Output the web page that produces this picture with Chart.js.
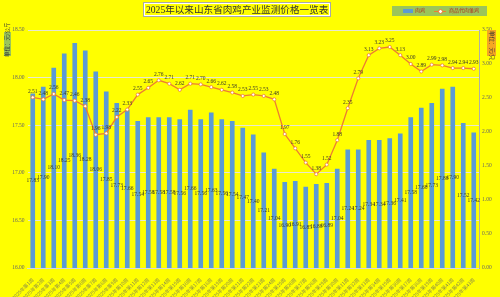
<!DOCTYPE html>
<html><head><meta charset="utf-8">
<script src="https://cdn.jsdelivr.net/npm/chart.js@4"></script>
<style>
html,body{margin:0;padding:0;background:#ffff00;}
#wrap{position:relative;width:500px;height:297px;background:#ffff00;overflow:hidden;font-family:"Liberation Serif","Noto Sans CJK SC",serif;}
canvas{position:absolute;left:0;top:0;}
#title{position:absolute;left:143px;top:2px;height:13px;line-height:13px;padding:0 2px;border:1px solid #a8a8a8;box-shadow:inset 0 0 0 1px #fff;font-size:9.6px;color:#333;white-space:nowrap;}
#legend{position:absolute;left:392px;top:6px;width:95px;height:10px;background:#9bc55a;font-size:5px;color:#b03020;}
.ytitle{position:absolute;font-size:5.5px;color:#333;white-space:nowrap;}
</style></head>
<body><div id="wrap">
<canvas id="c" width="500" height="297"></canvas>
<div id="title">2025年以来山东省肉鸡产业监测价格一览表</div>
<div id="legend">
 <span style="position:absolute;left:11px;top:3px;width:10px;height:3.5px;background:#5b9bd5"></span>
 <span style="position:absolute;left:23px;top:2px;line-height:6px">肉鸡</span>
 <span style="position:absolute;left:42px;top:4.5px;width:12px;height:1.2px;background:#ed7d31"></span>
 <span style="position:absolute;left:46px;top:3px;width:3px;height:3px;border:0.8px solid #ed7d31;background:#fff;border-radius:50%"></span>
 <span style="position:absolute;left:57px;top:2px;line-height:6px">商品代肉雏鸡</span>
</div>
<div class="ytitle" style="left:4px;top:32px;width:7px;height:24px;background:#9bc55a;">
 <div style="position:absolute;left:-9px;top:9px;width:25px;text-align:center;transform:rotate(-90deg);line-height:7px;">单位：元/公斤</div></div>
<div class="ytitle" style="left:487px;top:30px;width:9px;height:26px;background:#f5a623;">
 <div style="position:absolute;left:-8px;top:9px;width:25px;text-align:center;transform:rotate(90deg);line-height:9px;">单位：元/只</div></div>
</div>
<script>
const categories = ["2025年第1周","2025年第2周","2025年第3周","2025年第4周","2025年第5周","2025年第6周","2025年第7周","2025年第8周","2025年第9周","2025年第10周","2025年第11周","2025年第12周","2025年第13周","2025年第14周","2025年第15周","2025年第16周","2025年第17周","2025年第18周","2025年第19周","2025年第20周","2025年第21周","2025年第22周","2025年第23周","2025年第24周","2025年第25周","2025年第26周","2025年第27周","2025年第28周","2025年第29周","2025年第30周","2025年第31周","2025年第32周","2025年第33周","2025年第34周","2025年第35周","2025年第36周","2025年第37周","2025年第38周","2025年第39周","2025年第40周","2025年第41周","2025年第42周","2025年第43周"];
const broilerPrice = [17.83,17.90,18.10,18.25,18.36,18.28,18.06,17.85,17.73,17.66,17.54,17.58,17.58,17.58,17.56,17.66,17.56,17.63,17.56,17.54,17.47,17.40,17.21,17.04,16.90,16.91,16.85,16.88,16.89,17.04,17.24,17.24,17.34,17.34,17.36,17.41,17.58,17.68,17.73,17.88,17.90,17.52,17.42];
const chickPrice = [2.51,2.48,2.56,2.47,2.46,2.38,1.96,1.98,2.22,2.33,2.55,2.65,2.76,2.71,2.62,2.71,2.70,2.66,2.62,2.58,2.53,2.55,2.53,2.48,1.97,1.76,1.55,1.38,1.52,1.88,2.35,2.79,3.13,3.23,3.25,3.13,3.00,2.89,2.99,2.98,2.94,2.94,2.93];
const leftTicks = [16.0,16.5,17.0,17.5,18.0,18.5];
const rightTicks = [0,0.5,1.0,1.5,2.0,2.5,3.0,3.5];

const labelFont = '5.5px "Liberation Serif", serif';
const labelPlugin = {
  id:'vlabels',
  afterDatasetsDraw(chart){
    const ctx = chart.ctx;
    ctx.save();
    ctx.font = labelFont;
    ctx.fillStyle = '#3a3a2a';
    ctx.textAlign = 'center';
    ctx.textBaseline = 'middle';
    const ys = chart.scales.y;
    const m0 = chart.getDatasetMeta(0);
    m0.data.forEach((el,i)=>{
      const y = (ys.getPixelForValue(broilerPrice[i]) + ys.getPixelForValue(ys.min))/2;
      ctx.fillText(broilerPrice[i].toFixed(2), el.x, y);
    });
    const m1 = chart.getDatasetMeta(1);
    m1.data.forEach((el,i)=>{
      ctx.fillText(chickPrice[i].toFixed(2), el.x, el.y-6);
    });
    ctx.restore();
  }
};

new Chart(document.getElementById('c'), {
  data:{
    labels: categories,
    datasets:[
      {type:'bar', label:'肉鸡', data:broilerPrice, yAxisID:'y', backgroundColor:'#5b9bd5', barThickness:4, order:2},
      {type:'line', label:'商品代肉雏鸡', data:chickPrice, yAxisID:'y1', borderColor:'#ed7d31', borderWidth:1.3,
       pointRadius:1.6, pointBackgroundColor:'#ffffff', pointBorderColor:'#ed7d31', pointBorderWidth:0.8, tension:0, order:1}
    ]
  },
  options:{
    responsive:false, animation:false, devicePixelRatio:1,
    layout:{padding:{top:30,left:0,right:0,bottom:0}},
    plugins:{legend:{display:false}, title:{display:false}, tooltip:{enabled:false}},
    scales:{
      x:{
        grid:{display:false},
        border:{display:true,color:'#d9d9d9'},
        ticks:{autoSkip:false, maxRotation:45, minRotation:45, font:{size:4.8, family:'"Noto Sans CJK SC"'}, color:'#8a8a4a', padding:1},
        afterFit(s){ s.height = 29; }
      },
      y:{
        position:'left', min:16, max:18.5,
        afterBuildTicks(s){ s.ticks = leftTicks.map(v=>({value:v})); },
        ticks:{callback:v=>Number(v).toFixed(2), font:{size:5.5, family:'"Liberation Serif"'}, color:'#666', padding:3},
        grid:{color:'#e8e8d0', lineWidth:1, drawTicks:false},
        border:{display:false},
        afterFit(s){ s.width = 27.5; }
      },
      y1:{
        position:'right', min:0, max:3.5,
        afterBuildTicks(s){ s.ticks = rightTicks.map(v=>({value:v})); },
        ticks:{callback:v=>Number(v).toFixed(2), font:{size:5.5, family:'"Liberation Serif"'}, color:'#666', padding:3},
        grid:{display:false, drawTicks:false},
        border:{display:true, color:'#b0b0a0'},
        afterFit(s){ s.width = 21; }
      }
    }
  },
  plugins:[labelPlugin]
});
</script>
</body></html>
